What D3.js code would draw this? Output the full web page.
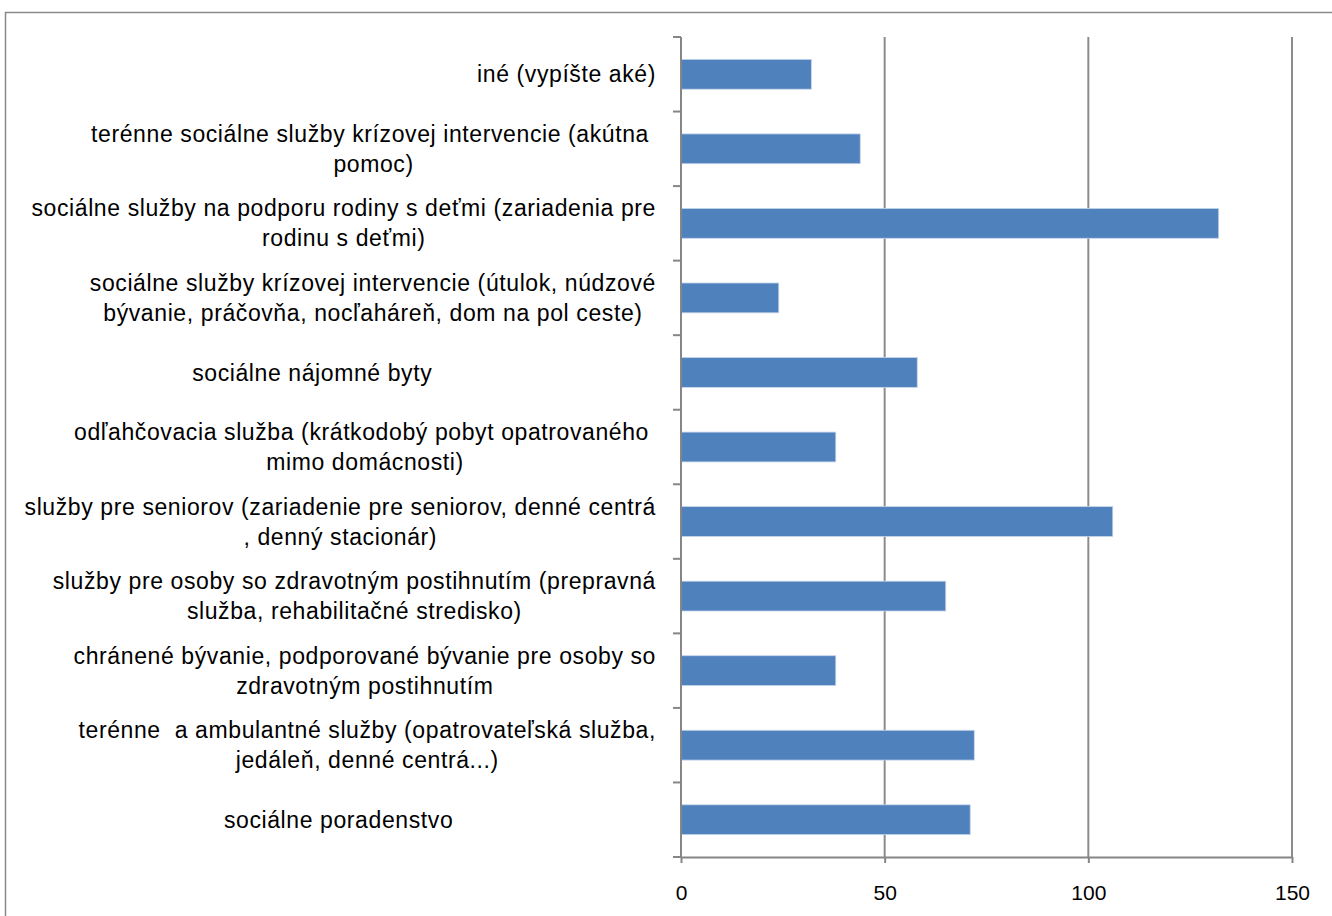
<!DOCTYPE html>
<html>
<head>
<meta charset="utf-8">
<script src="https://cdn.jsdelivr.net/npm/d3@7"></script>
<style>
  body { margin: 0; background: #fff; }
  svg { display: block; }
  text { white-space: pre; }
</style>
</head>
<body>
<script>
// categories, bottom to top as in the chart (lines split the way the chart wraps them;
// two labels carry trailing blanks in the source sheet, which shifts them left)
var categories = [
  ["sociálne poradenstvo".padEnd(49)],
  ["terénne  a ambulantné služby (opatrovateľská služba,", "jedáleň, denné centrá...)"],
  ["chránené bývanie, podporované bývanie pre osoby so", "zdravotným postihnutím"],
  ["služby pre osoby so zdravotným postihnutím (prepravná", "služba, rehabilitačné stredisko)"],
  ["služby pre seniorov (zariadenie pre seniorov, denné centrá", ", denný stacionár)"],
  ["odľahčovacia služba (krátkodobý pobyt opatrovaného ", "mimo domácnosti)"],
  ["sociálne nájomné byty".padEnd(53)],
  ["sociálne služby krízovej intervencie (útulok, núdzové", "bývanie, práčovňa, nocľaháreň, dom na pol ceste)"],
  ["sociálne služby na podporu rodiny s deťmi (zariadenia pre", "rodinu s deťmi)"],
  ["terénne sociálne služby krízovej intervencie (akútna ", "pomoc)"],
  ["iné (vypíšte aké)"]
];
var values = [71, 72, 38, 65, 106, 38, 58, 24, 132, 44, 32];
var xTicks = [0, 50, 100, 150];

var svg = d3.select("body").append("svg")
    .attr("width", 1332)
    .attr("height", 916);

// outer chart frame
svg.append("rect")
    .attr("x", 5.5).attr("y", 12.5)
    .attr("width", 1340).attr("height", 950)
    .attr("fill", "none")
    .attr("stroke", "#8a8a8a")
    .attr("stroke-width", 1.5);

var margin = {top: 37, left: 681, right: 40, bottom: 59};
var width = 1292 - margin.left,
    height = 857 - margin.top;
var g = svg.append("g").attr("transform", "translate(" + margin.left + "," + margin.top + ")");

var ids = d3.range(categories.length);
var x = d3.scaleLinear().domain([0, 150]).range([0, width]);
var y = d3.scaleBand().domain(ids.slice().reverse()).range([0, height]).paddingInner(0.6).paddingOuter(0.3);
var yb = d3.scaleBand().domain(ids.slice().reverse()).range([0, height]);

var font = "'Liberation Sans', Arial, sans-serif";

// vertical gridlines
g.append("g")
    .selectAll("line")
    .data(xTicks.slice(1))
    .enter().append("line")
      .attr("x1", function(d) { return x(d); })
      .attr("x2", function(d) { return x(d); })
      .attr("y1", 0).attr("y2", height)
      .attr("stroke", "#8c8c8c")
      .attr("stroke-width", 2);

// bars
g.selectAll(".bar")
    .data(ids)
    .enter().append("rect")
      .attr("class", "bar")
      .attr("x", 0)
      .attr("y", function(d) { return y(d); })
      .attr("width", function(d) { return x(values[d]); })
      .attr("height", y.bandwidth())
      .attr("fill", "#4f81bd")
      .attr("stroke", "#c6d5ea")
      .attr("stroke-width", 0.8);

// x axis
var xAxis = g.append("g")
    .attr("transform", "translate(0," + height + ")")
    .call(d3.axisBottom(x).tickValues(xTicks).tickSize(6).tickPadding(22).tickSizeOuter(0));
xAxis.select(".domain").attr("stroke", "#868686").attr("stroke-width", 2);
xAxis.selectAll(".tick line").attr("stroke", "#868686").attr("stroke-width", 2);
xAxis.selectAll(".tick text")
    .attr("fill", "#000")
    .style("font-family", font)
    .style("font-size", "21px");

// y axis (ticks between categories)
var yAxis = g.append("g");
yAxis.append("line")
    .attr("x1", 0).attr("x2", 0).attr("y1", 0).attr("y2", height)
    .attr("stroke", "#868686").attr("stroke-width", 2);
yAxis.selectAll(".ytick")
    .data(ids.concat([-1]))
    .enter().append("line")
      .attr("class", "ytick")
      .attr("x1", -8).attr("x2", 0)
      .attr("y1", function(d) { return d < 0 ? height : yb(d); })
      .attr("y2", function(d) { return d < 0 ? height : yb(d); })
      .attr("stroke", "#868686").attr("stroke-width", 2);

// category labels: right aligned block, lines centred within it
var lineH = 30;
var labels = g.selectAll(".label")
    .data(ids)
    .enter().append("g")
      .attr("class", "label");

labels.each(function(d) {
  var lines = categories[d];
  var grp = d3.select(this);
  var cy = yb(d) + yb.bandwidth() / 2;
  var texts = lines.map(function(t, i) {
    return grp.append("text")
      .attr("y", cy + (i - (lines.length - 1) / 2) * lineH)
      .attr("dy", "0.35em")
      .attr("text-anchor", "middle")
      .style("font-family", font)
      .style("font-size", "23px")
      .style("letter-spacing", "0.6px")
      .attr("fill", "#000")
      .text(t);
  });
  var w = d3.max(texts, function(t) { return t.node().getComputedTextLength(); });
  texts.forEach(function(t) { t.attr("x", -25 - w / 2); });
});
</script>
</body>
</html>
